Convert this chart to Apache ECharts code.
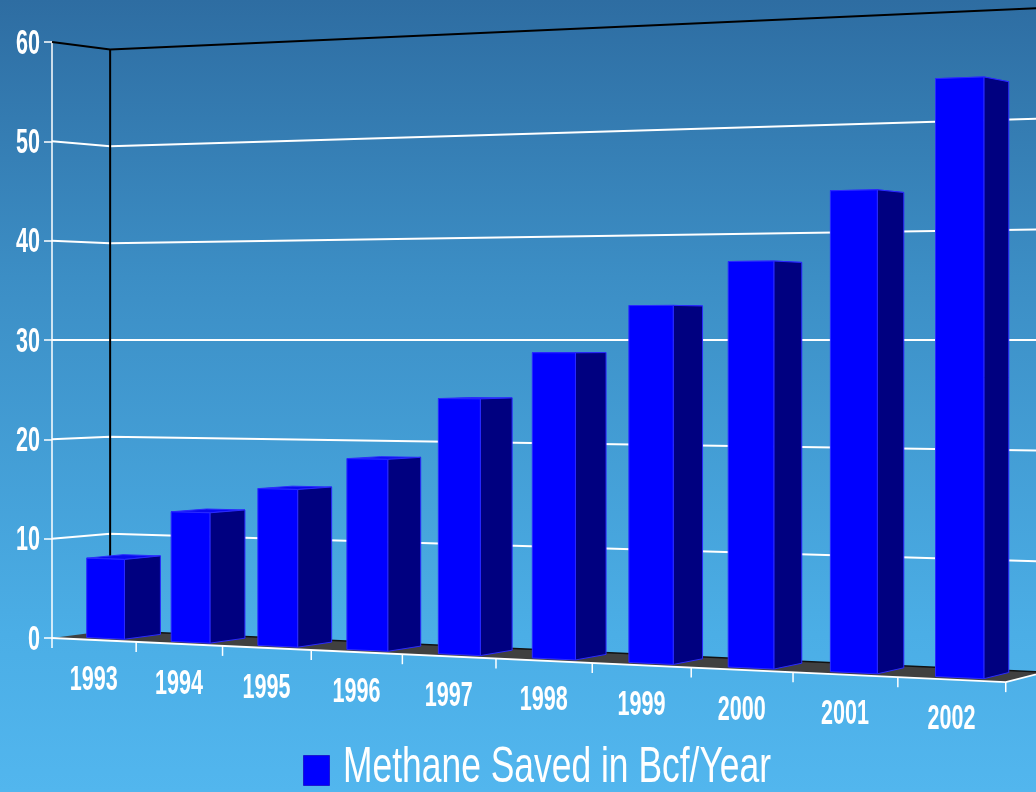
<!DOCTYPE html>
<html><head><meta charset="utf-8">
<script src="https://cdn.jsdelivr.net/npm/echarts/dist/echarts.min.js"></script>
<style>html,body{margin:0;padding:0;background:#fff}#c{width:1036px;height:792px}</style>
</head><body><div id="c"></div>
<script>
// ---- data ----
const years = ['1993','1994','1995','1996','1997','1998','1999','2000','2001','2002'];
const methaneSaved = [8.0, 12.9, 15.4, 18.5, 24.4, 28.8, 33.2, 37.2, 43.5, 53.3];
const yTicks = [0, 10, 20, 30, 40, 50, 60];
const seriesName = 'Methane Saved in Bcf/Year';

// ---- 3D view (camera) settings ----
const VIEW = {
  horizonValue: 30,   // eye height, in axis units
  persp: -0.129,      // depth change across the category axis
  depthPersp: 0.026,  // depth change from front to back wall
  depthShift: 61,     // horizontal shift of the back wall
  barFront: 0.2, barBack: 0.83, barHalf: 0.225
};

const NARROW = '"Liberation Sans Narrow", "Arial Narrow", "Liberation Sans", sans-serif';
const cv = document.createElement('canvas').getContext('2d');
function fitScale(text, font, target) { cv.font = font; return target / cv.measureText(text).width; }
const labelScale = fitScale('1993', 'bold 35px ' + NARROW, 48);
const legendScale = fitScale(seriesName, '50px ' + NARROW, 428);

function project(api, cs, px, py, s) {
  const k = (px - cs.x) / cs.width;
  const d = 1 + VIEW.persp * k + VIEW.depthPersp * s;
  const hy = api.coord([0, VIEW.horizonValue])[1];
  return [(px + VIEW.depthShift * s) / d, hy + (py - hy) / d];
}

function labelText(x, y, text, align, scale) {
  return { type: 'text', x: x, y: y, scaleX: scale, silent: true,
    style: { text: text, x: 0, y: 0, fill: '#ffffff', fontSize: 35, fontWeight: 'bold',
      fontFamily: NARROW, align: align, verticalAlign: 'middle' } };
}

const chart = echarts.init(document.getElementById('c'), null, { renderer: 'canvas' });
const option = {
  animation: false,
  backgroundColor: { type: 'linear', x: 0, y: 0, x2: 0, y2: 1, colorStops: [
    { offset: 0, color: '#2E6DA2' }, { offset: 0.35, color: '#3C8EC5' },
    { offset: 0.8, color: '#4BAEE6' }, { offset: 1, color: '#52B6EE' } ] },
  grid: { left: 52, top: 42, width: 824, height: 596 },
  xAxis: { type: 'category', data: years, show: false },
  yAxis: { type: 'value', min: 0, max: 60, interval: 10,
    axisLine: { show: true, lineStyle: { color: '#ffffff', width: 1.5 } },
    axisTick: { show: true, length: 8, lineStyle: { color: '#ffffff', width: 1.5 } },
    axisLabel: { show: false }, splitLine: { show: false } },
  series: [
    { // gridlines on the left and back walls + value labels
      type: 'custom', z: 1, silent: true,
      data: yTicks.map(t => [0, t]),
      encode: { x: 0, y: 1 },
      renderItem: function (params, api) {
        const cs = params.coordSys;
        const v = api.value(1);
        const py = api.coord([0, v])[1];
        const x0 = cs.x, x1 = cs.x + cs.width;
        const a = project(api, cs, x0, py, 0), b = project(api, cs, x0, py, 1), c = project(api, cs, x1, py, 1);
        const isTop = v === yTicks[yTicks.length - 1];
        const col = isTop ? '#000000' : '#ffffff';
        const children = [];
        if (v !== 0) {
          children.push({ type: 'polyline', shape: { points: [a, b, c] },
            style: { stroke: col, lineWidth: 2, fill: null } });
        }
        children.push(labelText(x0 - 12, py + 2, String(v), 'right', labelScale));
        return { type: 'group', children: children };
      }
    },
    { // back-left edge and the floor
      type: 'custom', z: 2, silent: true,
      data: [[0, 0]],
      encode: { x: 0, y: 1 },
      renderItem: function (params, api) {
        const cs = params.coordSys;
        const x0 = cs.x, x1 = cs.x + cs.width;
        const y0 = api.coord([0, 0])[1];
        const yT = api.coord([0, yTicks[yTicks.length - 1]])[1];
        const P = (x, y, s) => project(api, cs, x, y, s);
        const fl = [P(x0, y0, 0), P(x1, y0, 0), P(x1, y0, 1), P(x0, y0, 1)];
        return { type: 'group', children: [
          { type: 'line', shape: { x1: P(x0, y0, 1)[0], y1: P(x0, y0, 1)[1], x2: P(x0, yT, 1)[0], y2: P(x0, yT, 1)[1] },
            style: { stroke: '#000000', lineWidth: 2 } },
          { type: 'polygon', shape: { points: fl }, style: { fill: '#404040', stroke: null } },
          { type: 'polyline', shape: { points: [fl[3], fl[2]] }, style: { stroke: '#111111', lineWidth: 1.5, fill: null } },
          { type: 'polyline', shape: { points: [fl[0], fl[1], fl[2]] }, style: { stroke: '#ffffff', lineWidth: 1.8, fill: null } },
          { type: 'line', shape: { x1: fl[0][0], y1: fl[0][1], x2: fl[0][0], y2: fl[0][1] + 10 },
            style: { stroke: '#ffffff', lineWidth: 1.5 } }
        ] };
      }
    },
    { // 3D bars, category ticks and labels
      type: 'custom', name: seriesName, z: 3, silent: true,
      data: methaneSaved.map((v, i) => [i, v]),
      encode: { x: 0, y: 1 },
      renderItem: function (params, api) {
        const cs = params.coordSys;
        const i = api.value(0), v = api.value(1);
        const c = api.coord([i, 0]);
        const t = api.coord([i, v]);
        const bw = api.size([1, 0])[0];
        const xl = c[0] - bw * VIEW.barHalf, xr = c[0] + bw * VIEW.barHalf;
        const y0 = c[1], y1 = t[1];
        const f = VIEW.barFront, b = VIEW.barBack;
        const P = (x, y, s) => project(api, cs, x, y, s);
        const front = [P(xl, y0, f), P(xr, y0, f), P(xr, y1, f), P(xl, y1, f)];
        const side = [P(xr, y0, f), P(xr, y0, b), P(xr, y1, b), P(xr, y1, f)];
        const top = [P(xl, y1, f), P(xr, y1, f), P(xr, y1, b), P(xl, y1, b)];
        const edge = { stroke: '#2a2aff', lineWidth: 1, lineJoin: 'round' };
        const tickBase = P(c[0] + bw / 2, y0, 0);
        const lab = P(c[0], y0, 0);
        return { type: 'group', children: [
          { type: 'line', shape: { x1: tickBase[0], y1: tickBase[1], x2: tickBase[0], y2: tickBase[1] + 10 },
            style: { stroke: '#ffffff', lineWidth: 1.5 } },
          labelText(lab[0], lab[1] + 40, years[i], 'center', labelScale),
          { type: 'polygon', shape: { points: top }, style: Object.assign({ fill: '#0a0af2' }, edge) },
          { type: 'polygon', shape: { points: side }, style: Object.assign({ fill: '#000080' }, edge) },
          { type: 'polygon', shape: { points: front }, style: Object.assign({ fill: '#0000ff' }, edge) }
        ] };
      }
    }
  ],
  graphic: [
    { type: 'rect', left: 303, top: 755, shape: { width: 26, height: 30 },
      style: { fill: '#0000ff', stroke: '#1a1ad0', lineWidth: 1 } },
    { type: 'text', x: 343, y: 768, scaleX: legendScale,
      style: { text: seriesName, fill: '#ffffff', fontSize: 50, fontFamily: NARROW,
        align: 'left', verticalAlign: 'middle' } }
  ]
};
chart.setOption(option);
</script>
</body></html>
